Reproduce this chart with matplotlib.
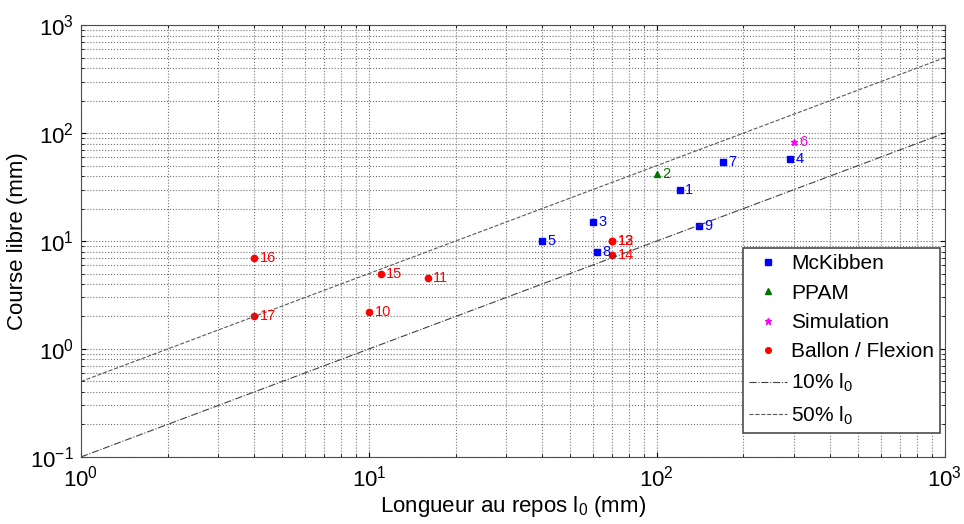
import matplotlib
matplotlib.use('Agg')
import matplotlib.pyplot as plt
import numpy as np

plt.rcParams['font.family'] = ['Liberation Sans', 'DejaVu Sans']
plt.rcParams['mathtext.fontset'] = 'custom'
plt.rcParams['mathtext.rm'] = 'Liberation Sans'
plt.rcParams['mathtext.it'] = 'Liberation Sans'

# McKibben
mck_id = ['1', '3', '4', '5', '7', '8', '9']
mck_l0 = [120, 60, 290, 40, 170, 62, 140]
mck_c = [30, 15, 57, 10, 54, 8, 13.8]
# PPAM
ppam_id = ['2']
ppam_l0 = [100]
ppam_c = [42]
# Simulation
sim_id = ['6']
sim_l0 = [300]
sim_c = [83]
# Ballon / Flexion
bal_id = ['10', '11', '12', '13', '14', '15', '16', '17']
bal_l0 = [10, 16, 70, 70, 70, 11, 4, 4]
bal_c = [2.2, 4.5, 10, 10, 7.4, 5, 7, 2]

ratios = [0.1, 0.5]

green = (0, 0.45, 0)
magenta = '#ff00ff'

fig = plt.figure(figsize=(9.64, 5.24), dpi=100)
ax = fig.add_axes([0.084, 0.128, 0.896, 0.824])

ax.plot(mck_l0, mck_c, 's', color='b', ms=5, label='McKibben')
ax.plot(ppam_l0, ppam_c, '^', color=green, ms=5, label='PPAM')
ax.plot(sim_l0, sim_c, '*', color=magenta, ms=5, label='Simulation')
ax.plot(bal_l0, bal_c, 'o', color='r', ms=4.5, label='Ballon / Flexion')

xl = np.array([1, 1000])
ax.plot(xl, ratios[0] * xl, '-.', color='0.25', lw=0.8, label=r'10% l$_0$')
ax.plot(xl, ratios[1] * xl, '--', color='0.35', lw=0.8, label=r'50% l$_0$')

for ids, xs, ys, c in [(mck_id, mck_l0, mck_c, 'b'), (ppam_id, ppam_l0, ppam_c, green),
                       (sim_id, sim_l0, sim_c, magenta), (bal_id, bal_l0, bal_c, 'r')]:
    for t, x, y in zip(ids, xs, ys):
        ax.annotate(t, (x, y), xytext=(4, 0), textcoords='offset points',
                    va='center', ha='left', color=c, fontsize=10.5)

ax.set_xscale('log')
ax.set_yscale('log')
ax.set_xlim(1, 1000)
ax.set_ylim(0.1, 1000)
ax.grid(True, which='both', ls=':', color='0.45', lw=0.8)
ax.tick_params(which='both', direction='in', top=True, right=True, labelsize=16)
ax.tick_params(axis='x', pad=6)
ax.tick_params(axis='y', pad=5)
ax.set_xlabel(r'Longueur au repos l$_0$ (mm)', fontsize=16)
ax.set_ylabel('Course libre (mm)', fontsize=16)
ax.xaxis.set_label_coords(0.5, -0.085)
ax.yaxis.set_label_coords(-0.061, 0.5)
for s in ax.spines.values():
    s.set_color('0.3')

leg = ax.legend(loc='lower right', bbox_to_anchor=(0.995, 0.055), fontsize=15,
                fancybox=False, framealpha=1, edgecolor='0.3', handlelength=1.8,
                handletextpad=0.2, borderaxespad=0.0, labelspacing=0.5,
                borderpad=0.3, markerscale=0.9)
leg.get_frame().set_linewidth(1.2)

fig.savefig('out.png', dpi=100)
